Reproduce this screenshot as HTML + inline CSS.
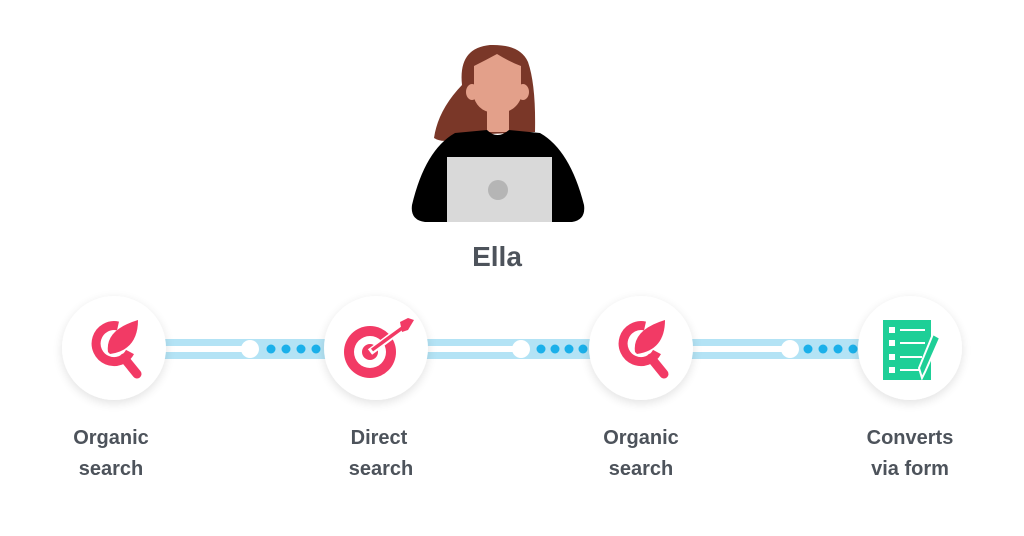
<!DOCTYPE html>
<html><head><style>
html,body{margin:0;padding:0;background:#fff;}
svg{display:block;}
text{font-family:"Liberation Sans",sans-serif;font-weight:bold;fill:#4d535b;}
</style></head><body>
<svg width="1024" height="536" viewBox="0 0 1024 536" xmlns="http://www.w3.org/2000/svg">
<defs>
<filter id="sh" x="-30%" y="-30%" width="160%" height="160%"><feGaussianBlur in="SourceAlpha" stdDeviation="5"/><feOffset dy="3"/><feComponentTransfer><feFuncA type="linear" slope="0.12"/></feComponentTransfer><feMerge><feMergeNode/><feMergeNode in="SourceGraphic"/></feMerge></filter>
</defs>
<!-- person -->
<path d="M462 85 Q458 48 490 45 Q520 44 528 62 Q536 85 535 132 L465 135 Q445 145 434 138 Q438 110 462 85Z" fill="#7a3728"/>
<rect x="487" y="100" width="22" height="32" fill="#e3a08a"/>
<ellipse cx="472" cy="92" rx="6" ry="8" fill="#e3a08a"/>
<ellipse cx="523" cy="92" rx="6" ry="8" fill="#e3a08a"/>
<path d="M474 66 Q486 60 497 54 Q510 62 521 66 L521 98 Q515 113 497 113 Q479 113 474 98Z" fill="#e3a08a"/>
<path d="M412 205 Q425 150 455 133 L487 130 Q497 140 509 130 L540 133 Q570 150 584 205 Q586 220 572 222 L425 222 Q410 220 412 205Z" fill="#000"/>
<rect x="447" y="157" width="105" height="65" fill="#d9d9d9"/>
<circle cx="498" cy="190" r="10" fill="#b5b5b5"/>
<text x="497" y="266" font-size="28" text-anchor="middle">Ella</text>
<!-- bars -->
<g>
<rect x="160" y="339" width="170" height="20" fill="#b3e3f5"/>
<rect x="160" y="346" width="90" height="6" fill="#fff"/>
<circle cx="250" cy="349" r="9" fill="#fff"/>
<g fill="#1ab0ea"><circle cx="271" cy="349" r="4.5"/><circle cx="286" cy="349" r="4.5"/><circle cx="301" cy="349" r="4.5"/><circle cx="316" cy="349" r="4.5"/></g>
<rect x="423" y="339" width="172" height="20" fill="#b3e3f5"/>
<rect x="423" y="346" width="98" height="6" fill="#fff"/>
<circle cx="521" cy="349" r="9" fill="#fff"/>
<g fill="#1ab0ea"><circle cx="541" cy="349" r="4.5"/><circle cx="555" cy="349" r="4.5"/><circle cx="569" cy="349" r="4.5"/><circle cx="583" cy="349" r="4.5"/></g>
<rect x="688" y="339" width="175" height="20" fill="#b3e3f5"/>
<rect x="688" y="346" width="102" height="6" fill="#fff"/>
<circle cx="790" cy="349" r="9" fill="#fff"/>
<g fill="#1ab0ea"><circle cx="808" cy="349" r="4.5"/><circle cx="823" cy="349" r="4.5"/><circle cx="838" cy="349" r="4.5"/><circle cx="853" cy="349" r="4.5"/></g>
</g>
<!-- circles -->
<g fill="#fff" filter="url(#sh)">
<circle cx="114" cy="348" r="52"/><circle cx="376" cy="348" r="52"/><circle cx="641" cy="348" r="52"/><circle cx="910" cy="348" r="52"/>
</g>
<!-- organic icons -->
<g id="org" fill="none" stroke="#f23a65" stroke-width="9">
<path d="M118 326 A18 18 0 1 0 130 352"/>
<line x1="124" y1="358" x2="137" y2="374" stroke-linecap="round"/>
<path d="M108 352 Q105 330 138 320 Q138 350 110 354Z" fill="#f23a65" stroke="none"/>
</g>
<use href="#org" x="527"/>
<!-- target -->
<g>
<circle cx="370" cy="352" r="26" fill="#f23a65"/>
<circle cx="370" cy="352" r="16" fill="#fff"/>
<circle cx="370" cy="352" r="8" fill="#f23a65"/>
<line x1="370" y1="352" x2="405" y2="326" stroke="#fff" stroke-width="7"/>
<line x1="372" y1="350" x2="405" y2="326" stroke="#f23a65" stroke-width="3.5"/>
<path d="M400 322 L408 318 L414 320 L408 330 L402 332Z" fill="#f23a65"/>
</g>
<!-- form -->
<g>
<rect x="883" y="320" width="48" height="60" fill="#1ecf97"/>
<g fill="#fff"><rect x="889" y="327" width="6" height="6"/><rect x="889" y="340" width="6" height="6"/><rect x="889" y="354" width="6" height="6"/><rect x="889" y="367" width="6" height="6"/></g>
<g stroke="#fff" stroke-width="2"><line x1="900" y1="330" x2="925" y2="330"/><line x1="900" y1="343" x2="925" y2="343"/><line x1="900" y1="357" x2="922" y2="357"/><line x1="900" y1="370" x2="920" y2="370"/></g>
<path d="M933 334 L940 338 L925 372 L922 378 L919 368Z" fill="#1ecf97" stroke="#fff" stroke-width="2"/>
</g>
<!-- labels -->
<g font-size="20" text-anchor="middle">
<text x="111" y="444">Organic</text><text x="111" y="475">search</text>
<text x="379" y="444">Direct</text><text x="381" y="475">search</text>
<text x="641" y="444">Organic</text><text x="641" y="475">search</text>
<text x="910" y="444">Converts</text><text x="910" y="475">via form</text>
</g>
</svg>
</body></html>
